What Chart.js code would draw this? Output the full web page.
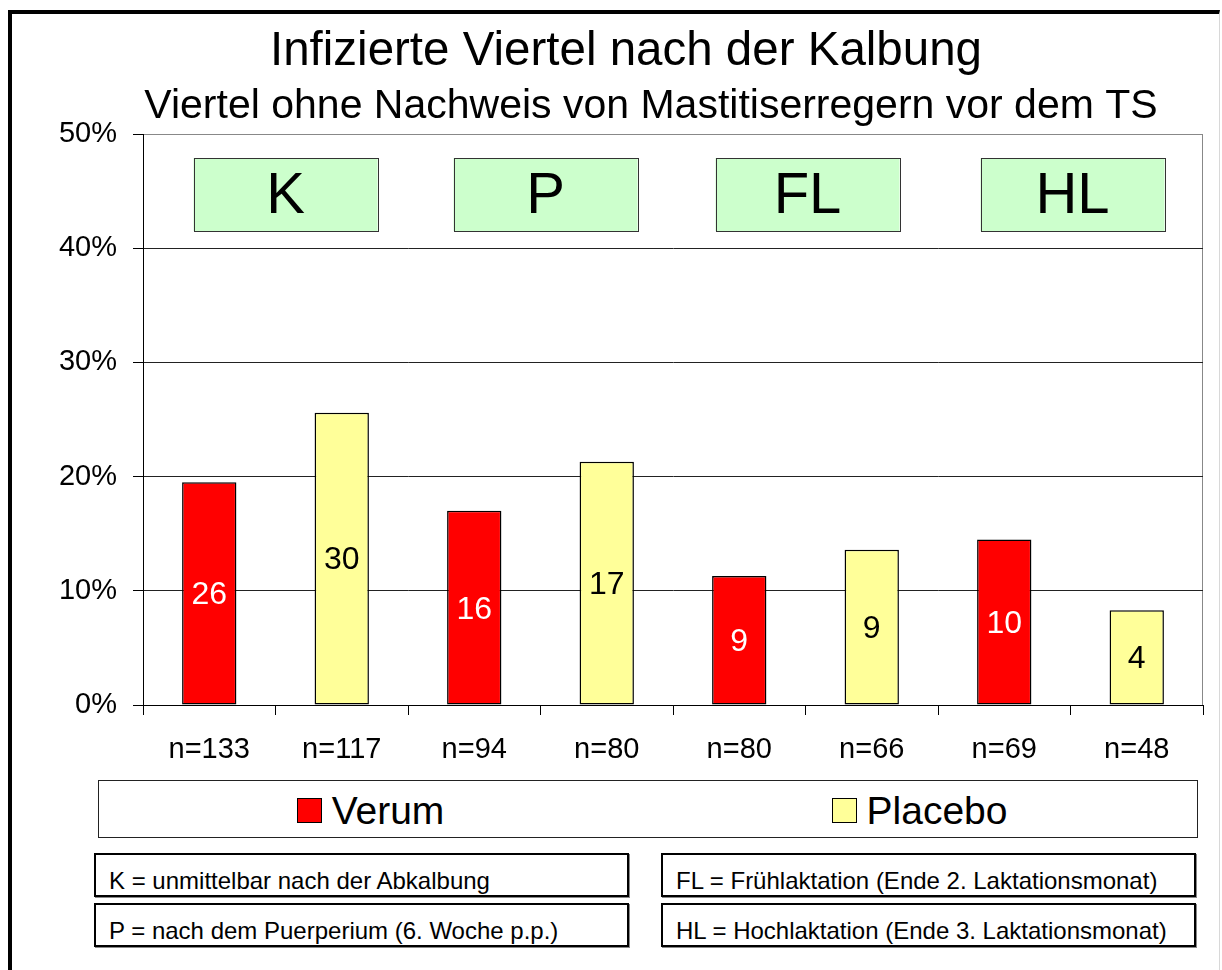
<!DOCTYPE html>
<html lang="de">

<head>
  <meta charset="UTF-8">
  <title>Infizierte Viertel nach der Kalbung</title>
  <script src="https://cdn.jsdelivr.net/npm/chart.js"></script>
  <style>
    body {
      margin: 0;
      width: 1222px;
      height: 970px;
      background: #fff;
      font-family: 'Liberation Sans', Arial, sans-serif;
      position: relative;
      overflow: hidden;
    }

    .frame {
      position: absolute;
      left: 8px;
      top: 10px;
      width: 1207px;
      height: 980px;
      border-left: 4px solid #000;
      border-top: 4px solid #000;
      border-right: 1px solid #d8d8d8;
    }

    #chart {
      position: absolute;
      left: 0;
      top: 0;
    }

    .legend {
      position: absolute;
      left: 98px;
      top: 780px;
      width: 1100px;
      height: 58px;
      box-sizing: border-box;
      border: 1.5px solid #222;
      display: flex;
    }

    .legend .item {
      flex: 1;
      display: flex;
      align-items: center;
      justify-content: center;
      font-size: 39px;
      padding-top: 3px;
      margin-left: -6px;
    }

    .legend .swatch {
      width: 25px;
      height: 25px;
      box-sizing: border-box;
      border: 1.5px solid #000;
      margin-right: 10px;
    }

    .note {
      position: absolute;
      width: 535px;
      height: 44px;
      box-sizing: border-box;
      border: 2px solid #000;
      box-shadow: 1px 1px 0 #888;
      font-size: 24px;
      line-height: 27px;
      padding: 12px 0 0 13px;
      white-space: nowrap;
    }
  </style>
</head>

<body>
  <div class="frame"></div>
  <canvas id="chart" width="1222" height="780"></canvas>
  <div class="legend" id="legend"></div>
  <div id="notes"></div>

  <script>
    // values (share of infected quarters, %)
    const nLabels = ['n=133', 'n=117', 'n=94', 'n=80', 'n=80', 'n=66', 'n=69', 'n=48'];
    const verum = [19.5, null, 17.0, null, 11.3, null, 14.5, null];
    const placebo = [null, 25.6, null, 21.3, null, 13.6, null, 8.3];
    const infected = [26, 30, 16, 17, 9, 9, 10, 4];
    const phases = ['K', 'P', 'FL', 'HL'];
    const yTicks = [0, 10, 20, 30, 40, 50];
    const notes = [
      'K = unmittelbar nach der Abkalbung',
      'P = nach dem Puerperium (6. Woche p.p.)',
      'FL = Frühlaktation (Ende 2. Laktationsmonat)',
      'HL = Hochlaktation (Ende 3. Laktationsmonat)'
    ];

    const FONT = "'Liberation Sans', Arial, sans-serif";
    const colors = { verum: '#ff0000', placebo: '#ffff99', phase: '#ccffcc' };

    // titles are not centred on the same axis in the original, so draw them by hand
    const titles = {
      id: 'titles',
      afterDraw(chart) {
        const { ctx } = chart;
        ctx.save();
        ctx.fillStyle = '#000';
        ctx.textAlign = 'center';
        ctx.textBaseline = 'alphabetic';
        ctx.font = '47.5px ' + FONT;
        ctx.fillText('Infizierte Viertel nach der Kalbung', 626, 65);
        ctx.font = '41px ' + FONT;
        ctx.fillText('Viertel ohne Nachweis von Mastitiserregern vor dem TS', 651, 118);
        ctx.restore();
      }
    };

    // grey frame of the plot area (top + right side)
    const plotFrame = {
      id: 'plotFrame',
      beforeDraw(chart) {
        const { ctx, chartArea: a } = chart;
        ctx.save();
        ctx.strokeStyle = '#888';
        ctx.lineWidth = 1;
        ctx.strokeRect(a.left + 0.5, a.top + 0.5, a.right - a.left - 1, a.bottom - a.top);
        ctx.restore();
      }
    };

    // counts written inside the bars + green phase boxes on top
    const nudge = [10, 5, 2, 2];
    const barText = {
      id: 'barText',
      afterDatasetsDraw(chart) {
        const { ctx } = chart;
        const xs = chart.scales.x, ys = chart.scales.y;
        ctx.save();
        ctx.textAlign = 'center';
        ctx.textBaseline = 'middle';
        ctx.font = '32px ' + FONT;
        chart.data.datasets.forEach((ds, di) => {
          chart.getDatasetMeta(di).data.forEach((bar, i) => {
            if (ds.data[i] == null) return;
            ctx.fillStyle = di === 0 ? '#fff' : '#000';
            ctx.fillText(String(infected[i]), bar.x, (bar.y + bar.base) / 2 + 2);
          });
        });

        phases.forEach((p, k) => {
          const cx = (xs.getPixelForValue(2 * k) + xs.getPixelForValue(2 * k + 1)) / 2 + nudge[k];
          const top = ys.getPixelForValue(47.9), bottom = ys.getPixelForValue(41.5);
          ctx.fillStyle = colors.phase;
          ctx.fillRect(cx - 92, top, 184, bottom - top);
          ctx.strokeStyle = '#333';
          ctx.lineWidth = 1;
          ctx.strokeRect(Math.round(cx - 92) + 0.5, Math.round(top) + 0.5, 184, Math.round(bottom - top));
          ctx.fillStyle = '#000';
          ctx.font = '58px ' + FONT;
          ctx.fillText(p, cx, (top + bottom) / 2 + 2);
        });
        ctx.restore();
      }
    };

    const chart = new Chart(document.getElementById('chart'), {
      type: 'bar',
      data: {
        labels: nLabels,
        datasets: [
          { label: 'Verum', data: verum, backgroundColor: colors.verum },
          { label: 'Placebo', data: placebo, backgroundColor: colors.placebo }
        ]
      },
      options: {
        responsive: false,
        animation: false,
        layout: { padding: { left: 0, right: 19, top: 134, bottom: 0 } },
        datasets: {
          bar: {
            grouped: false,
            barPercentage: 0.41,
            categoryPercentage: 1,
            borderColor: '#000',
            borderWidth: 1.5,
            borderSkipped: false
          }
        },
        plugins: {
          legend: { display: false },
          tooltip: { enabled: false }
        },
        scales: {
          x: {
            afterFit(scale) { scale.height = 75; },
            grid: {
              display: true,
              offset: true,
              drawOnChartArea: false,
              drawTicks: true,
              tickLength: 10,
              color: '#000'
            },
            border: { color: '#000', width: 1 },
            ticks: {
              color: '#000',
              padding: 18,
              font: { family: FONT, size: 29 }
            }
          },
          y: {
            min: 0,
            max: 50,
            afterFit(scale) { scale.width = 143; },
            afterBuildTicks(scale) { scale.ticks = yTicks.map(v => ({ value: v })); },
            grid: {
              color: c => c.tick && c.tick.value === 50 ? '#888' : '#222',
              tickColor: '#000',
              tickLength: 10
            },
            border: { color: '#000', width: 1 },
            ticks: {
              color: '#000',
              padding: 16,
              font: { family: FONT, size: 29 },
              callback: v => v + '%'
            }
          }
        }
      },
      plugins: [plotFrame, barText, titles]
    });

    // legend box below the axis
    const legend = document.getElementById('legend');
    chart.data.datasets.forEach(ds => {
      const item = document.createElement('div');
      item.className = 'item';
      item.innerHTML = '<span class="swatch" style="background:' + ds.backgroundColor + '"></span>' + ds.label;
      legend.appendChild(item);
    });

    // explanation boxes at the bottom
    const spots = [[94, 853], [94, 903], [661, 853], [661, 903]];
    const holder = document.getElementById('notes');
    notes.forEach((t, i) => {
      const d = document.createElement('div');
      d.className = 'note';
      d.style.left = spots[i][0] + 'px';
      d.style.top = spots[i][1] + 'px';
      d.textContent = t;
      holder.appendChild(d);
    });
  </script>
</body>

</html>
